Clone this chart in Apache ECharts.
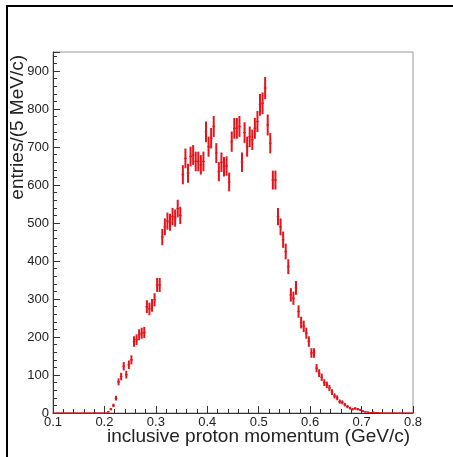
<!DOCTYPE html>
<html>
<head>
<meta charset="utf-8">
<script src="https://cdn.jsdelivr.net/npm/echarts@6/dist/echarts.min.js"></script>
<style>
  html, body { margin: 0; padding: 0; background: #fff; }
  #chart { width: 453px; height: 457px; }
</style>
</head>
<body>
<div id="chart"></div>
<script>
// histogram: 5 MeV/c bins from 0.1 to 0.8 GeV/c
const histLow = 0.1;
const binWidth = 0.005;

// entries per bin (140 bins)
const entries = [
  0, 0, 0, 0, 0, 0, 0, 0, 0, 0,
  0, 0, 0, 0, 0, 0, 0, 0, 0, 0,
  0, 3, 10, 20, 39, 82, 96, 123, 101, 127,
  140, 188, 193, 206, 210, 212, 280, 274, 283, 298,
  337, 337, 463, 490, 505, 502, 517, 513, 538, 520,
  627, 670, 631, 675, 679, 662, 662, 653, 662, 740,
  701, 723, 754, 684, 635, 660, 648, 650, 608, 714,
  749, 749, 754, 660, 738, 701, 727, 719, 749, 767,
  811, 815, 855, 758, 710, 613, 613, 517, 490, 456,
  425, 385, 311, 302, 329, 267, 238, 228, 210, 188,
  158, 158, 118, 105, 94, 80, 74, 66, 55, 45,
  40, 30, 28, 22, 17, 13, 10, 12, 10, 8,
  5, 3, 2, 1, 2, 1, 1, 0, 0, 0,
  0, 0, 0, 0, 0, 0, 0, 0, 0, 0
];

const xTitle = 'inclusive proton momentum (GeV/c)';
const yTitle = 'entries/(5 MeV/c)';

const RED = '#e3141c';
const AXIS = '#333';
const FONT = '"Liberation Sans", Arial, sans-serif';

let chartData = entries.map(function (n, i) {
  let x = histLow + binWidth * (i + 0.5);
  return [x, n, Math.sqrt(n)];
});

function renderBin(params, api) {
  let x = api.value(0);
  let y = api.value(1);
  let err = api.value(2);
  let left = api.coord([x - binWidth / 2, y]);
  let right = api.coord([x + binWidth / 2, y]);
  let children = [{
    type: 'line',
    shape: { x1: left[0], y1: left[1], x2: right[0], y2: right[1] },
    style: { stroke: RED, lineWidth: 1.3 }
  }];
  if (err > 0) {
    let lo = api.coord([x, y - err]);
    let hi = api.coord([x, y + err]);
    children.push({
      type: 'line',
      shape: { x1: lo[0], y1: lo[1], x2: hi[0], y2: hi[1] },
      style: { stroke: RED, lineWidth: 2 }
    });
  }
  return { type: 'group', children: children };
}

let chart = echarts.init(document.getElementById('chart'), null, { renderer: 'canvas' });

let option = {
  animation: false,
  backgroundColor: '#fff',
  grid: {
    left: 53, right: 40, top: 52, bottom: 44,
    show: true, borderColor: '#999', borderWidth: 1
  },
  xAxis: {
    type: 'value',
    min: 0.1, max: 0.8, interval: 0.1,
    axisLine: { lineStyle: { color: AXIS, width: 1 } },
    axisTick: { inside: true, length: 7, lineStyle: { color: AXIS } },
    minorTick: { show: true, splitNumber: 5, length: 4, lineStyle: { color: AXIS } },
    splitLine: { show: false },
    axisLabel: {
      margin: 3, fontSize: 13, color: '#222', fontFamily: FONT,
      formatter: function (v) { return v.toFixed(1); }
    }
  },
  yAxis: {
    type: 'value',
    min: 0, max: 950, interval: 100,
    axisLine: { show: true, lineStyle: { color: AXIS, width: 1 } },
    axisTick: { show: true, inside: true, length: 7, lineStyle: { color: AXIS } },
    minorTick: { show: true, splitNumber: 5, length: 4, lineStyle: { color: AXIS } },
    splitLine: { show: false },
    axisLabel: {
      margin: 4, fontSize: 13, color: '#222', fontFamily: FONT,
      showMaxLabel: false
    }
  },
  graphic: [
    // outer frame (left + top)
    { type: 'line', shape: { x1: 7, y1: 6, x2: 7, y2: 457 }, style: { stroke: '#000', lineWidth: 2 } },
    { type: 'line', shape: { x1: 6, y1: 6, x2: 453, y2: 6 }, style: { stroke: '#000', lineWidth: 2 } },
    {
      type: 'text', x: 410, y: 437,
      style: { text: xTitle, fill: '#222', font: '19px ' + FONT, align: 'right', verticalAlign: 'middle' }
    },
    {
      type: 'text', x: 18, y: 55, rotation: Math.PI / 2,
      style: { text: yTitle, fill: '#222', font: '19px ' + FONT, align: 'right', verticalAlign: 'middle' }
    }
  ],
  series: [{
    type: 'custom',
    renderItem: renderBin,
    data: chartData,
    encode: { x: 0, y: 1 },
    z: 5
  }]
};

chart.setOption(option);
</script>
</body>
</html>
